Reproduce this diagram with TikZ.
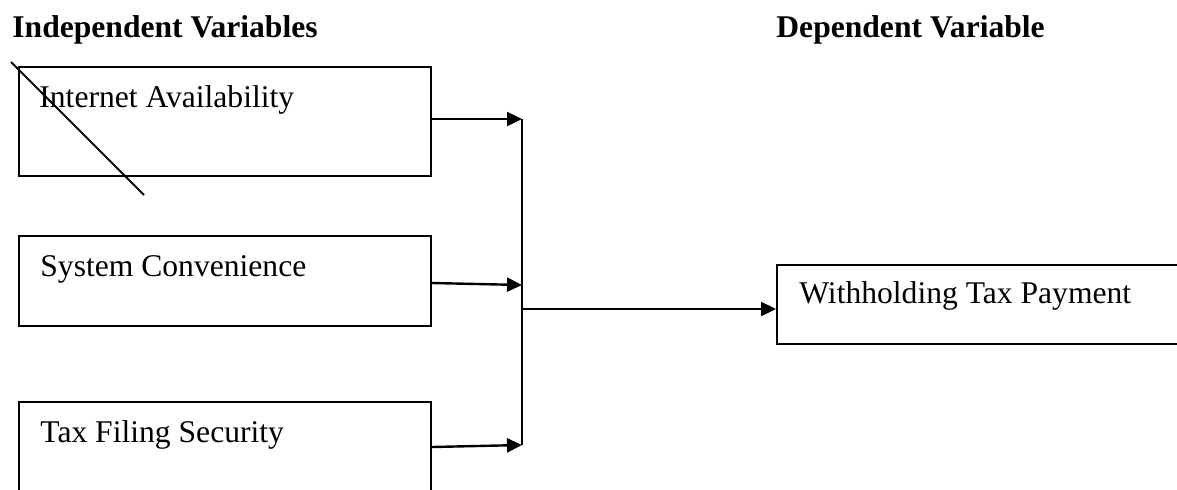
\documentclass[tikz,border=0pt]{standalone}
\usepackage{fontspec}
\setmainfont{Liberation Serif}
\usetikzlibrary{arrows.meta}
\begin{document}
\begin{tikzpicture}[x=0.5pt,y=-0.5pt,
  varbox/.style={draw=black,line width=1pt,rectangle,inner sep=0pt,anchor=north west},
  boxtext/.style={anchor=base west,inner sep=0pt,font=\fontsize{15.8pt}{19pt}\selectfont},
  headtext/.style={anchor=base west,inner sep=0pt,font=\fontsize{15.8pt}{19pt}\selectfont\bfseries},
  link/.style={line width=1.2pt,-{Triangle[length=7.5pt,width=7pt]}},
  bar/.style={line width=1pt}]
\useasboundingbox (0,0) rectangle (1177,489);
\clip (0,0) rectangle (1177,489);

% headings
\node[headtext] (hind) at (12,37) {Independent Variables};
\node[headtext] (hdep) at (776,37) {Dependent Variable};

% independent variable boxes
\node[varbox,minimum width=206pt,minimum height=54.5pt] (b1) at (18,66) {};
\node[boxtext] (t1) at (39,107) {Internet Availability};
\node[varbox,minimum width=206pt,minimum height=45pt] (b2) at (18,235) {};
\node[boxtext] (t2) at (40,276) {System Convenience};
\node[varbox,minimum width=206pt,minimum height=60pt] (b3) at (18,401) {};
\node[boxtext] (t3) at (40,442) {Tax Filing Security};

% dependent variable box
\node[varbox,minimum width=220pt,minimum height=39.5pt] (b4) at (776,264) {};
\node[boxtext] (t4) at (799,303) {Withholding Tax Payment};

% strike-through line across the first box
\coordinate (x1) at (11,62);
\coordinate (x2) at (144,195);
\draw[line width=1pt] (x1) -- (x2);

% arrow start points on the boxes and end points on the collecting bar
\coordinate (s1) at (b1.east |- 0,119);
\coordinate (s2) at (b2.east |- 0,283);
\coordinate (s3) at (b3.east |- 0,447);
\coordinate (e1) at (522,119);
\coordinate (e2) at (522,285);
\coordinate (e3) at (522,445);
\coordinate (j) at (522,309);

\draw[link] (s1) -- (e1);
\draw[link] (s2) -- (e2);
\draw[link] (s3) -- (e3);
\draw[bar] (e1) -- (e3);
\draw[link] (j) -- (j -| b4.west);
\end{tikzpicture}
\end{document}
